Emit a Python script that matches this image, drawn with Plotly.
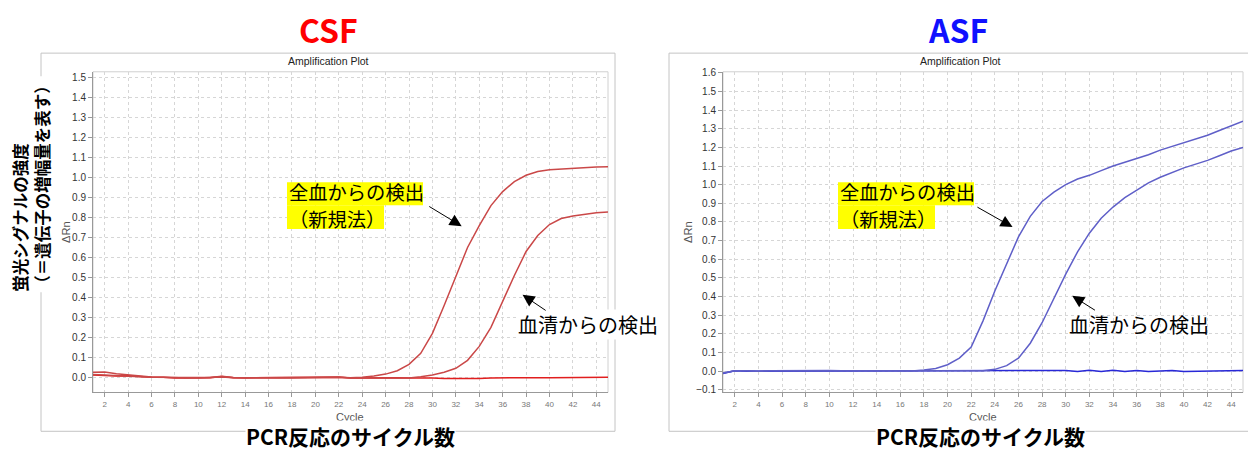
import plotly.graph_objects as go

# ---------------- data ----------------
cycles = list(range(1, 46))

# CSF (ΔRn per cycle)
csf_whole_blood = [0.025, 0.026, 0.018, 0.012, 0.006, 0.001, 0.0, -0.003, -0.004, -0.004,
                   -0.002, 0.002, -0.002, -0.003, -0.003, -0.003, -0.003, -0.003, -0.002, -0.002,
                   -0.001, 0.0, -0.002, 0.0, 0.007, 0.016, 0.033, 0.065, 0.12, 0.22,
                   0.36, 0.51, 0.65, 0.76, 0.86, 0.93, 0.98, 1.012, 1.031, 1.040,
                   1.044, 1.048, 1.050, 1.053, 1.054]
csf_serum = [0.014, 0.012, 0.008, 0.008, 0.003, 0.0, 0.0, -0.002, -0.003, -0.003,
             -0.001, 0.005, -0.001, -0.002, -0.002, -0.002, -0.002, -0.002, -0.002, -0.002,
             -0.002, 0.001, -0.003, -0.003, -0.002, -0.002, -0.001, -0.004, 0.003, 0.012,
             0.025, 0.045, 0.085, 0.155, 0.25, 0.38, 0.51, 0.63, 0.71, 0.765,
             0.795, 0.808, 0.817, 0.824, 0.828]
csf_negative = [0.012, 0.010, 0.006, 0.008, 0.004, 0.0, 0.0, -0.004, -0.004, -0.003,
                -0.002, 0.004, -0.002, -0.003, -0.003, -0.003, -0.003, -0.003, -0.002, -0.003,
                -0.002, 0.0, -0.004, -0.003, -0.002, -0.003, -0.002, -0.004, -0.002, -0.003,
                -0.006, -0.007, -0.007, -0.006, -0.003, -0.002, -0.002, -0.002, -0.002, -0.002,
                -0.001, 0.0, 0.0, 0.0, 0.0]

# ASF (ΔRn per cycle)
asf_whole_blood = [-0.010, 0.003, 0.002, 0.0, 0.002, 0.003, 0.002, 0.001, 0.003, 0.004,
                   0.002, 0.001, 0.001, 0.002, 0.002, 0.0, 0.001, 0.006, 0.015, 0.035,
                   0.07, 0.13, 0.27, 0.43, 0.58, 0.72, 0.83, 0.91, 0.96, 1.0,
                   1.03, 1.05, 1.075, 1.10, 1.12, 1.14, 1.16, 1.185, 1.205, 1.225,
                   1.245, 1.265, 1.29, 1.315, 1.34]
asf_serum = [-0.010, 0.002, 0.002, 0.0, 0.002, 0.002, 0.002, 0.001, 0.002, 0.004,
             0.002, 0.001, 0.001, 0.001, 0.002, 0.0, 0.0, 0.001, 0.002, 0.001,
             0.002, 0.001, 0.002, 0.01, 0.03, 0.07, 0.15, 0.26, 0.39, 0.52,
             0.64, 0.74, 0.82, 0.88, 0.93, 0.97, 1.01, 1.04, 1.065, 1.09,
             1.11, 1.13, 1.155, 1.18, 1.20]
asf_negative = [-0.012, 0.002, 0.0, 0.0, 0.002, 0.002, 0.001, 0.001, 0.002, 0.004,
                0.002, 0.0, 0.001, 0.001, 0.001, 0.0, 0.0, 0.001, 0.0, 0.001,
                0.0, 0.001, 0.001, 0.0, 0.001, 0.0, 0.001, 0.0, 0.002, 0.004,
                -0.002, 0.005, -0.001, 0.005, -0.002, 0.004, -0.002, 0.003, 0.004, -0.002,
                0.0, 0.002, 0.001, 0.003, 0.004]

x_ticks = list(range(2, 46, 2))
csf_y_ticks = [i / 10 for i in range(0, 16)]
asf_y_ticks = [i / 10 for i in range(-1, 17)]

# ---------------- layout helpers ----------------
W, H = 1248, 450


def px(x):
    return x / W


def py(y):
    return 1 - y / H


JP = "Noto Sans CJK JP"
LAT = "Liberation Sans, Arial, sans-serif"

CSF_LINE = "rgb(202,72,72)"
CSF_BASE = "rgb(225,30,30)"
ASF_LINE = "rgb(95,95,200)"
ASF_BASE = "rgb(40,40,215)"

fig = go.Figure()

for vals, col in [(csf_negative, CSF_BASE), (csf_serum, CSF_LINE), (csf_whole_blood, CSF_LINE)]:
    fig.add_trace(go.Scatter(x=cycles, y=vals, mode="lines", xaxis="x", yaxis="y",
                             line=dict(color=col, width=1.5), showlegend=False, hoverinfo="skip"))
for vals, col in [(asf_negative, ASF_BASE), (asf_serum, ASF_LINE), (asf_whole_blood, ASF_LINE)]:
    fig.add_trace(go.Scatter(x=cycles, y=vals, mode="lines", xaxis="x2", yaxis="y2",
                             line=dict(color=col, width=1.5), showlegend=False, hoverinfo="skip"))

csf_dom_x = [px(93), px(608)]
asf_dom_x = [px(723), px(1243)]
dom_y = [py(394.5), py(68)]

common_x = dict(range=[1, 45], tickvals=x_ticks, ticks="outside", ticklen=4, tickcolor="#999",
                showline=True, linecolor="#999", linewidth=1, showgrid=True, gridcolor="#d6d6d6",
                griddash="dot", gridwidth=1, zeroline=False,
                tickfont=dict(family=LAT, size=8, color="#777"))
common_y = dict(ticks="outside", ticklen=4, tickcolor="#999", tickformat=".1f",
                showline=True, linecolor="#999", linewidth=1, showgrid=True, gridcolor="#d6d6d6",
                griddash="dot", gridwidth=1, zeroline=False,
                tickfont=dict(family=LAT, size=10, color="#333"))

fig.update_layout(
    width=W, height=H, margin=dict(l=0, r=0, t=0, b=0),
    paper_bgcolor="white", plot_bgcolor="white",
    xaxis=dict(domain=csf_dom_x, anchor="y", **common_x),
    yaxis=dict(domain=dom_y, anchor="x", range=[-0.076, 1.53], tickvals=csf_y_ticks, **common_y),
    xaxis2=dict(domain=asf_dom_x, anchor="y2", **common_x),
    yaxis2=dict(domain=dom_y, anchor="x2", range=[-0.114, 1.605], tickvals=asf_y_ticks, **common_y),
)

shapes = []
# outer frames of each chart image
for x0, x1 in [(41, 615), (669, 1252)]:
    shapes.append(dict(type="rect", xref="paper", yref="paper", x0=px(x0), x1=px(x1),
                       y0=py(434), y1=py(49), line=dict(color="#c4c4c4", width=1), layer="below"))
# light border around each plot area
for xr, yr in [("x domain", "y domain"), ("x2 domain", "y2 domain")]:
    shapes.append(dict(type="rect", xref=xr, yref=yr, x0=0, x1=1, y0=0, y1=1,
                       line=dict(color="#d0d0d0", width=1), layer="below"))


def highlight(x0, x1, y0, y1):
    shapes.append(dict(type="rect", xref="paper", yref="paper", x0=px(x0), x1=px(x1),
                       y0=py(y1), y1=py(y0), line=dict(width=0), fillcolor="#ffff00",
                       layer="above"))


ann = []


def text(x, y, s, size, color="black", family=JP, weight="normal", bg=None, **kw):
    d = dict(xref="paper", yref="paper", x=px(x), y=py(y), text=s, showarrow=False,
             font=dict(family=family, size=size, color=color, weight=weight),
             xanchor=kw.pop("xanchor", "center"), yanchor=kw.pop("yanchor", "middle"), **kw)
    if bg:
        d.update(bgcolor=bg, borderpad=0)
    ann.append(d)


# headline titles
text(328, 24, "CSF", 32, color="#ff0000", weight="bold")
text(958, 24, "ASF", 32, color="#1010ff", weight="bold")

# chart captions
for cx, cy in [(328, 57), (960, 57)]:
    text(cx, cy, "Amplification Plot", 10.5, color="#222", family=LAT)
for cx in [350, 983]:
    text(cx, 419, "Cycle", 11, color="#555", family=LAT)
for cx, cy in [(66, 232), (688, 232)]:
    text(cx, cy, "ΔRn", 11, color="#555", family=LAT, textangle=-90)

# axis descriptions in Japanese
for cx in [350, 980]:
    text(cx, 439, "PCR反応のサイクル数", 21, weight="bold", bg="white")
text(31, 183, "蛍光シグナルの強度<br>（＝遺伝子の増幅量を表す）", 16.5, weight="bold",
     bg="white", textangle=-90, align="left")

# callouts with per-line yellow highlight
for x0 in [287, 838]:
    highlight(x0, x0 + 136, 180.5, 204)
    highlight(x0, x0 + 97, 204, 228)
    text(x0, 190, "全血からの検出", 19.3, xanchor="left")
    text(x0, 218.3, "（新規法）", 19.3, xanchor="left")
text(517, 325, "血清からの検出", 20, bg="white", xanchor="left")
text(1067, 325, "血清からの検出", 20, xanchor="left")

fig.update_layout(shapes=shapes)

arrows = [
    ("x", "y", 29.6, 0.86, 32.5, 0.757),
    ("x", "y", 39.8, 0.33, 37.7, 0.413),
    ("x2", "y2", 22.4, 0.884, 25.5, 0.773),
    ("x2", "y2", 32.6, 0.322, 30.55, 0.404),
]
for xr, yr, tx, ty, hx, hy in arrows:
    ann.append(dict(xref=xr, yref=yr, axref=xr, ayref=yr, x=hx, y=hy, ax=tx, ay=ty,
                    text="", showarrow=True, arrowhead=2, arrowsize=2.4, arrowwidth=1,
                    arrowcolor="black"))

fig.update_layout(annotations=ann)

fig.write_html("out.html")
